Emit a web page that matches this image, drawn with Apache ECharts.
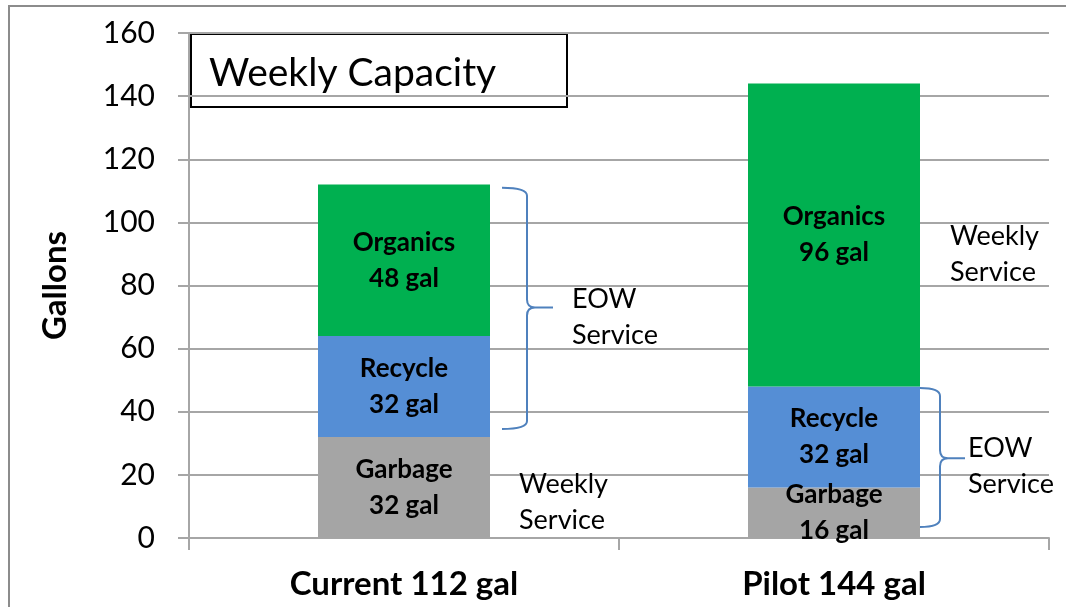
<!DOCTYPE html>
<html>
<head>
<meta charset="utf-8">
<script src="https://cdn.jsdelivr.net/npm/echarts@6/dist/echarts.min.js"></script>
<style>
  html, body { margin: 0; padding: 0; background: #fff; }
  #chart { width: 1066px; height: 607px; }
</style>
</head>
<body>
<div id="chart"></div>
<script>
// data
var categories = ['Current 112 gal', 'Pilot 144 gal'];
var garbage = [32, 16];
var recycle = [32, 32];
var organics = [48, 96];
var seriesNames = ['Garbage', 'Recycle', 'Organics'];
var yTicks = [0, 160, 20]; // min, max, step

// braces (category, top value, bottom value, tip value)
var braceCat = [0, 1];
var braceTop = [111, 47.5];
var braceBottom = [34.5, 3.5];
var braceTip = [73, 25.3];

// side notes (category, value at text centre, text)
var noteCat = [0, 1, 1, 0];
var noteValue = [70, 22.7, 90, 11.4];
var noteText = ['EOW\nService', 'EOW\nService', 'Weekly\nService', 'Weekly\nService'];

// style only
var braceOffsets = [[12, 37, 63], [0, 20, 45]];
var noteOffsets = [82, 48, 30, 29];
var colors = ['#a5a5a5', '#558ed5', '#00b050'];
var FONT = 'Lato';

var myChart = echarts.init(document.getElementById('chart'));

function barLabel(name) {
    return {
        show: true,
        position: 'inside',
        formatter: function (p) { return name + '\n' + p.value + ' gal'; },
        fontFamily: FONT,
        fontWeight: 'bold',
        fontSize: 26,
        lineHeight: 36,
        color: '#000'
    };
}

var values = [garbage, recycle, organics];
var barSeries = seriesNames.map(function (n, i) {
    return {
        name: n,
        type: 'bar',
        stack: 'total',
        barWidth: '40%',
        itemStyle: { color: colors[i] },
        label: barLabel(n),
        data: values[i]
    };
});

var braceData = braceCat.map(function (c, i) {
    return [c, braceTop[i], braceBottom[i], braceTip[i]];
});
var noteData = noteCat.map(function (c, i) {
    return [c, noteValue[i]];
});

var option = {
    animation: false,
    textStyle: { fontFamily: FONT },
    grid: { left: 189, right: 17, top: 33, bottom: 69 },
    graphic: [
        {
            type: 'rect',
            shape: { x: 9, y: 6, width: 1200, height: 800 },
            style: { fill: 'none', stroke: '#8c8c8c', lineWidth: 2 },
            z: 0
        },
        {
            type: 'group',
            left: 190,
            top: 33,
            z: 100,
            children: [
                {
                    type: 'rect',
                    shape: { x: 0, y: 0, width: 376, height: 73 },
                    style: { fill: '#fff', stroke: '#000', lineWidth: 2 }
                },
                {
                    type: 'text',
                    x: 18,
                    y: 39,
                    style: {
                        text: 'Weekly Capacity',
                        font: '39px ' + FONT,
                        fill: '#000',
                        verticalAlign: 'middle'
                    }
                }
            ]
        }
    ],
    xAxis: {
        type: 'category',
        data: categories,
        axisLine: { lineStyle: { color: '#a6a6a6', width: 2 } },
        axisTick: { show: true, length: 12, lineStyle: { color: '#a6a6a6', width: 2 } },
        axisLabel: {
            fontFamily: FONT,
            fontWeight: 'bold',
            fontSize: 33,
            color: '#000',
            margin: 30
        }
    },
    yAxis: {
        type: 'value',
        min: yTicks[0],
        max: yTicks[1],
        interval: yTicks[2],
        name: 'Gallons',
        nameLocation: 'middle',
        nameRotate: 90,
        nameGap: 117,
        nameTextStyle: { fontFamily: FONT, fontWeight: 'bold', fontSize: 33, color: '#000' },
        axisLine: { show: true, lineStyle: { color: '#a6a6a6', width: 2 } },
        axisTick: { show: true, length: 11, lineStyle: { color: '#a6a6a6', width: 2 } },
        axisLabel: { fontFamily: FONT, fontSize: 30, color: '#000', margin: 34 },
        splitLine: { lineStyle: { color: '#a6a6a6', width: 2 } }
    },
    series: barSeries.concat([
        {
            type: 'custom',
            name: 'braces',
            clip: false,
            silent: true,
            z: 5,
            data: braceData,
            encode: { x: 0, y: [1, 2, 3] },
            renderItem: function (params, api) {
                var i = params.dataIndex;
                var c = api.value(0);
                var top = api.coord([c, api.value(1)]);
                var bot = api.coord([c, api.value(2)]);
                var tip = api.coord([c, api.value(3)]);
                var edge = top[0] + api.size([1, 0])[0] * 0.2;
                var o = braceOffsets[i];
                var x0 = edge + o[0], x1 = edge + o[1], x2 = edge + o[2];
                var r = 8;
                var path = 'M' + x0 + ',' + top[1] +
                    ' Q' + x1 + ',' + top[1] + ' ' + x1 + ',' + (top[1] + r) +
                    ' L' + x1 + ',' + (tip[1] - r) +
                    ' Q' + x1 + ',' + tip[1] + ' ' + (x1 + r) + ',' + tip[1] +
                    ' L' + x2 + ',' + tip[1] +
                    ' M' + (x1 + r) + ',' + tip[1] +
                    ' Q' + x1 + ',' + tip[1] + ' ' + x1 + ',' + (tip[1] + r) +
                    ' L' + x1 + ',' + (bot[1] - r) +
                    ' Q' + x1 + ',' + bot[1] + ' ' + x0 + ',' + bot[1];
                return {
                    type: 'path',
                    shape: { pathData: path },
                    style: { fill: 'none', stroke: '#4f81bd', lineWidth: 2 }
                };
            }
        },
        {
            type: 'custom',
            name: 'notes',
            clip: false,
            silent: true,
            z: 5,
            data: noteData,
            encode: { x: 0, y: 1 },
            renderItem: function (params, api) {
                var i = params.dataIndex;
                var p = api.coord([api.value(0), api.value(1)]);
                var edge = p[0] + api.size([1, 0])[0] * 0.2;
                return {
                    type: 'text',
                    x: edge + noteOffsets[i],
                    y: p[1],
                    style: {
                        text: noteText[i],
                        font: '27px ' + FONT,
                        lineHeight: 36,
                        fill: '#000',
                        align: 'left',
                        verticalAlign: 'middle'
                    }
                };
            }
        }
    ])
};

myChart.setOption(option);
</script>
</body>
</html>
